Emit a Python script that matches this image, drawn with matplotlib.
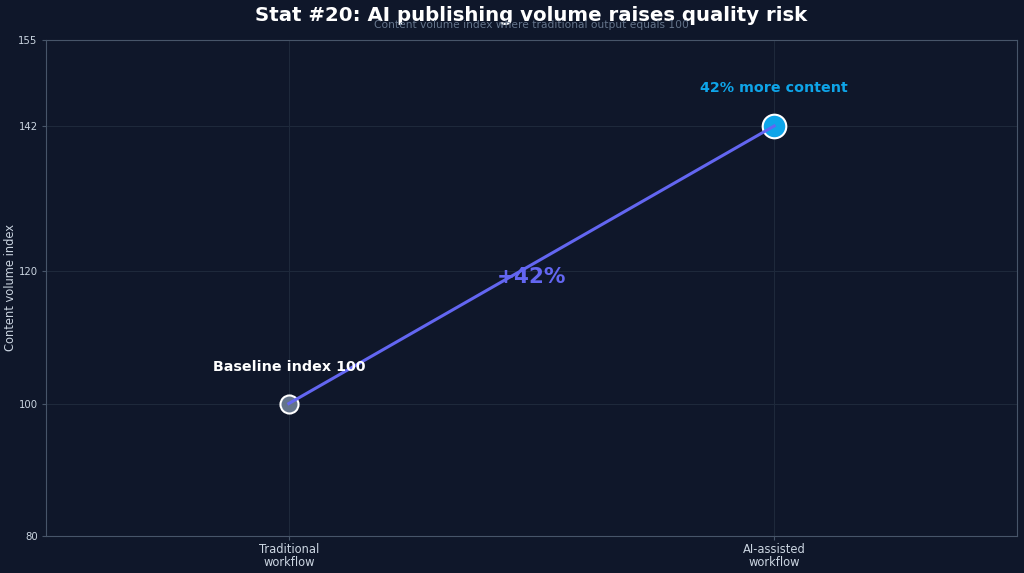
import matplotlib
matplotlib.use("Agg")
import matplotlib.pyplot as plt

# data
categories = ["Traditional\nworkflow", "AI-assisted\nworkflow"]
volume_index = [100, 142]
yticks = [80, 100, 120, 142, 155]

BG = "#0f172a"
GRID = "#1e293b"
SPINE = "#475569"
TXT = "#cbd5e1"
LINE = "#6366f1"
POINT_COLORS = ["#64748b", "#0ea5e9"]
POINT_SIZES = [13, 17]

fig, ax = plt.subplots(figsize=(10.24, 5.73), dpi=100)
fig.patch.set_facecolor(BG)
ax.set_facecolor(BG)
fig.subplots_adjust(left=0.045, right=0.993, top=0.93, bottom=0.065)

x = list(range(len(categories)))
for xi, yi, c, s in zip(x, volume_index, POINT_COLORS, POINT_SIZES):
    ax.plot(xi, yi, "o", color=c, markersize=s, markeredgecolor="white",
            markeredgewidth=1.5, zorder=3)
ax.plot(x, volume_index, "-", color=LINE, linewidth=2.2, zorder=4)

ax.set_xlim(-0.5, 1.5)
ax.set_ylim(80, 155)
ax.set_xticks(x)
ax.set_xticklabels(categories, fontsize=8.3, linespacing=1.0)
ax.set_yticks(yticks)
ax.tick_params(axis="x", colors=SPINE, labelcolor=TXT, labelsize=8.3, length=3, pad=2.5)
ax.tick_params(axis="y", colors=SPINE, labelcolor=TXT, labelsize=7.3, length=3, pad=3)
ax.grid(True, color=GRID, linewidth=0.8)
ax.set_axisbelow(True)
for sp in ax.spines.values():
    sp.set_color(SPINE)

ax.set_ylabel("Content volume index", color=TXT, fontsize=8.3)
ax.yaxis.set_label_coords(-0.030, 0.5)

pct = (volume_index[1] - volume_index[0]) / volume_index[0] * 100
ax.text(0.5, (volume_index[0] + volume_index[1]) / 2 - 1.8, f"+{pct:.0f}%",
        color=LINE, fontsize=15.5, fontweight="bold", ha="center", va="center", zorder=5)
ax.text(x[1], volume_index[1] + 5.8, f"{pct:.0f}% more content", color="#0ea5e9",
        fontsize=10.3, fontweight="bold", ha="center", va="center")
ax.text(x[0], volume_index[0] + 5.5, f"Baseline index {volume_index[0]}", color="white",
        fontsize=10.3, fontweight="bold", ha="center", va="center", zorder=5)

fig.text(0.519, 0.973, "Stat #20: AI publishing volume raises quality risk",
         color="white", fontsize=14.2, fontweight="bold", ha="center", va="center")
fig.text(0.519, 0.957, "Content volume index where traditional output equals 100",
         color="#64748b", fontsize=7.7, ha="center", va="center")

plt.savefig("out.png", dpi=100, facecolor=BG)
